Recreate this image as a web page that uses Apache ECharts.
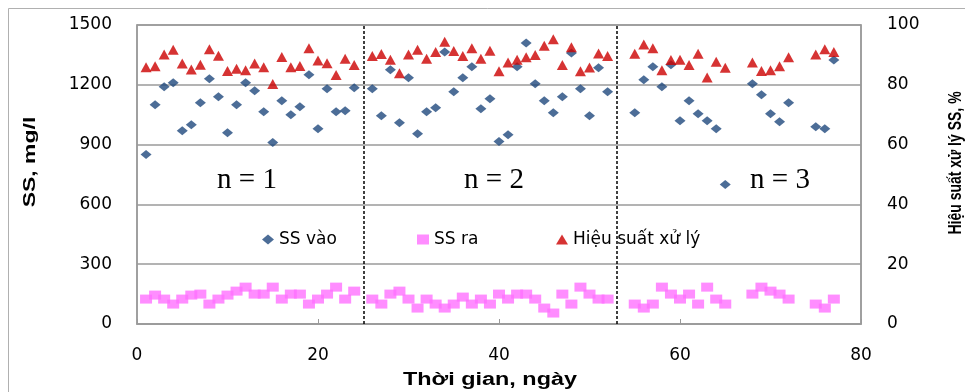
<!DOCTYPE html>
<html>
<head>
<meta charset="utf-8">
<script src="https://cdn.jsdelivr.net/npm/echarts@6.0.0/dist/echarts.min.js"></script>
<style>
  html, body { margin: 0; padding: 0; background: #fff; }
  #chart { width: 965px; height: 392px; }
</style>
</head>
<body>
<div id="chart"></div>
<script>
// ---- Data ----
const days = [1,2,3,4,5,6,7,8,9,10,11,12,13,14,15,16,17,18,19,20,21,22,23,24,
  26,27,28,29,30,31,32,33,34,35,36,37,38,39,40,41,42,43,44,45,46,47,48,49,50,51,52,
  55,56,57,58,59,60,61,62,63,64,65,
  68,69,70,71,72,
  75,76,77];

const ssIn = [850,1100,1190,1210,970,1000,1110,1230,1140,960,1100,1210,1170,1065,910,1120,1050,1090,1250,980,1180,1065,1070,1185,
  1180,1045,1275,1010,1235,955,1065,1085,1365,1165,1235,1290,1080,1130,915,950,1290,1410,1205,1120,1060,1140,1360,1180,1045,1285,1165,
  1060,1225,1290,1190,1300,1020,1120,1055,1020,980,700,
  1205,1150,1055,1015,1110,
  990,980,1325];

const ssOut = [125,145,125,100,125,145,150,100,125,145,165,185,150,150,185,125,150,150,100,125,150,185,125,165,
  125,100,150,165,125,80,125,100,80,100,135,100,125,100,150,125,150,150,125,80,55,150,100,185,150,125,125,
  100,80,100,185,150,125,150,100,185,125,100,
  150,185,165,150,125,
  100,80,125];

const efficiency = [85.9,86.2,90.1,91.7,87.1,85.1,86.7,91.9,89.7,84.6,85.4,84.9,87.1,85.9,80.3,89.3,85.9,86.3,92.2,88.1,87.2,83.3,88.7,86.6,
  89.6,90.3,88.4,83.9,90.1,91.7,88.7,91.0,94.4,91.3,89.6,92.2,88.7,91.4,84.5,87.5,88.4,89.2,90.0,93.1,95.2,86.6,92.6,84.5,85.8,90.5,89.6,
  90.4,93.5,92.2,84.9,88.3,88.4,86.6,90.4,82.4,87.7,85.7,
  87.5,84.6,84.9,86.2,89.2,
  90.1,91.9,91.0];

const phaseBreaks = [25, 53];
const phaseLabels = ['n = 1', 'n = 2', 'n = 3'];
const seriesNames = ['SS vào', 'SS ra', 'Hiệu suất xử lý'];
const xAxisTitle = 'Thời gian, ngày';
const yLeftTitle = 'SS, mg/l';
const yRightTitle = 'Hiệu suất xử lý SS, %';

// ---- Chart ----
const chart = echarts.init(document.getElementById('chart'));
const gray = '#9a9a9a';
const plain = v => String(v);
const tickFont = { fontFamily: 'DejaVu Sans', fontSize: 17, color: '#000', formatter: plain };

const legendBase = {
  top: 226, itemWidth: 12, itemHeight: 10, itemGap: 0,
  textStyle: { fontFamily: 'DejaVu Sans', fontSize: 17, color: '#000' }
};

const option = {
  animation: false,
  backgroundColor: '#fff',
  grid: { left: 137, right: 104, top: 25, bottom: 68, show: true, borderColor: gray, borderWidth: 1.5, backgroundColor: 'transparent' },
  legend: [
    Object.assign({}, legendBase, { data: [seriesNames[0]], left: 257 }),
    Object.assign({}, legendBase, { data: [seriesNames[1]], left: 412 }),
    Object.assign({}, legendBase, { data: [seriesNames[2]], left: 551 })
  ],
  xAxis: {
    type: 'value', min: 0, max: 80, interval: 20,
    axisLine: { show: true, lineStyle: { color: gray, width: 1.5 } },
    axisTick: { show: true, inside: true, length: 5, lineStyle: { color: gray } },
    splitLine: { show: false },
    axisLabel: Object.assign({ margin: 23 }, tickFont)
  },
  yAxis: [
    {
      type: 'value', min: 0, max: 1500, interval: 300,
      axisLine: { show: true, lineStyle: { color: gray, width: 1.5 } },
      axisTick: { show: false },
      splitLine: { show: true, lineStyle: { color: gray, width: 1.5 } },
      axisLabel: Object.assign({ margin: 25 }, tickFont)
    },
    {
      type: 'value', min: 0, max: 100, interval: 20, position: 'right',
      axisLine: { show: true, lineStyle: { color: gray, width: 1.5 } },
      axisTick: { show: false },
      splitLine: { show: false },
      axisLabel: Object.assign({ margin: 26 }, tickFont)
    }
  ],
  series: [
    {
      name: seriesNames[0], type: 'scatter', yAxisIndex: 0,
      symbol: 'diamond', symbolSize: [11, 9],
      itemStyle: { color: '#1F497D' },
      data: days.map((d, i) => [d, ssIn[i]]),
      markLine: {
        silent: true, symbol: 'none', label: { show: false },
        lineStyle: { color: '#000', type: [3, 2], width: 1.5 },
        data: phaseBreaks.map(b => ({ xAxis: b }))
      }
    },
    {
      name: seriesNames[1], type: 'scatter', yAxisIndex: 0,
      symbol: 'rect', symbolSize: [12, 9],
      itemStyle: { color: '#FF70FF' },
      data: days.map((d, i) => [d, ssOut[i]])
    },
    {
      name: seriesNames[2], type: 'scatter', yAxisIndex: 1,
      symbol: 'triangle', symbolSize: [11, 10],
      itemStyle: { color: '#CC0000' },
      data: days.map((d, i) => [d, efficiency[i]])
    }
  ],
  graphic: [
    { type: 'rect', silent: true, shape: { x: 8.5, y: 8.5, width: 1000, height: 500 },
      style: { fill: 'none', stroke: '#b0b0b0', lineWidth: 1 } },
    { type: 'text', x: 490, y: 380, silent: true, scaleX: 1.3,
      style: { text: xAxisTitle, font: 'bold 18px "Liberation Sans"', fill: '#000', align: 'center', verticalAlign: 'middle' } },
    { type: 'text', x: 30, y: 162, rotation: Math.PI / 2, scaleX: 1.35, silent: true,
      style: { text: yLeftTitle, font: 'bold 17px "Liberation Sans"', fill: '#000', align: 'center', verticalAlign: 'middle' } },
    { type: 'text', x: 956, y: 163, rotation: Math.PI / 2, scaleY: 1.25, silent: true,
      style: { text: yRightTitle, font: 'bold 14px "Liberation Sans"', fill: '#000', align: 'center', verticalAlign: 'middle' } },
    { type: 'text', x: 247, y: 180, silent: true,
      style: { text: phaseLabels[0], font: '29px "Liberation Serif"', fill: '#000', align: 'center', verticalAlign: 'middle' } },
    { type: 'text', x: 494, y: 180, silent: true,
      style: { text: phaseLabels[1], font: '29px "Liberation Serif"', fill: '#000', align: 'center', verticalAlign: 'middle' } },
    { type: 'text', x: 780, y: 180, silent: true,
      style: { text: phaseLabels[2], font: '29px "Liberation Serif"', fill: '#000', align: 'center', verticalAlign: 'middle' } }
  ]
};
chart.setOption(option);
</script>
</body>
</html>
